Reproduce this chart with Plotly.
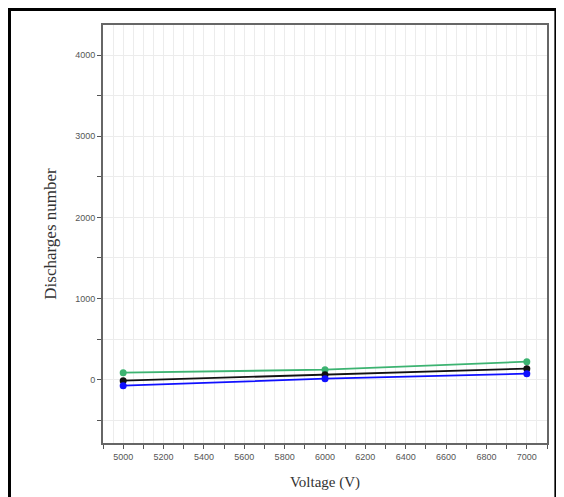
import plotly.graph_objects as go

voltage = [5000, 6000, 7000]
series_green = [86, 123, 222]
series_black = [-12, 60, 136]
series_blue = [-74, 12, 74]

x_tick_vals = list(range(4900, 7101, 100))
x_tick_text = [str(v) if v % 200 == 0 else "" for v in x_tick_vals]
y_tick_vals = list(range(-500, 4001, 500))
y_tick_text = [str(v) if v % 1000 == 0 else "" for v in y_tick_vals]

fig = go.Figure()
for vals, col in [(series_green, "#3cb371"), (series_black, "#111111"), (series_blue, "#1010ff")]:
    fig.add_trace(go.Scatter(x=voltage, y=vals, mode="lines+markers",
                             line=dict(color=col, width=1.8),
                             marker=dict(color=col, size=7), showlegend=False))

grid = "#ececec"
fig.update_layout(
    width=556, height=493,
    margin=dict(l=95, r=17, t=17, b=58),
    paper_bgcolor="white", plot_bgcolor="white",
    font=dict(family="Liberation Serif", color="#333"),
    xaxis=dict(range=[4900, 7100], tickvals=x_tick_vals, ticktext=x_tick_text,
               ticks="outside", ticklen=4, tickcolor="#555",
               showgrid=True, gridcolor=grid, gridwidth=1,
               minor=dict(dtick=50, tick0=4900, showgrid=True, gridcolor=grid, ticks=""),
               showline=True, linecolor="#666", linewidth=2, mirror=True,
               zeroline=False,
               tickfont=dict(family="Liberation Sans", size=9, color="#555"),
               title=dict(text="Voltage (V)", font=dict(family="Liberation Serif", size=15, color="#333"), standoff=16)),
    yaxis=dict(range=[-780, 4370], tickvals=y_tick_vals, ticktext=y_tick_text,
               ticks="outside", ticklen=4, tickcolor="#555",
               showgrid=True, gridcolor=grid, gridwidth=1,
               showline=True, linecolor="#666", linewidth=2, mirror=True,
               zeroline=False,
               tickfont=dict(family="Liberation Sans", size=9, color="#555"),
               title=dict(text="Discharges number", font=dict(family="Liberation Serif", size=17, color="#333"), standoff=14)),
    shapes=[
        dict(type="rect", xref="paper", yref="paper", x0=-0.2106, x1=1.020, y0=-0.2, y1=1.037,
             line=dict(color="black", width=3), fillcolor="rgba(0,0,0,0)", layer="above"),
    ],
)
fig.write_html("out.html")
